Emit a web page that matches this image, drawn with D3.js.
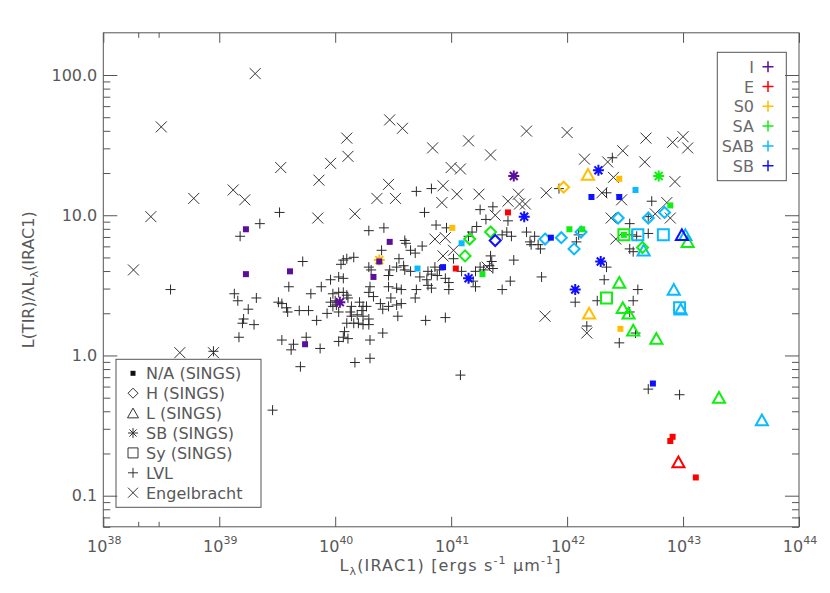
<!DOCTYPE html>
<html>
<head>
<meta charset="utf-8">
<script src="https://cdn.jsdelivr.net/npm/d3@7"></script>
<style>
body { margin: 0; background: #fff; }
text { font-family: "DejaVu Sans", sans-serif; }
</style>
</head>
<body>
<div id="data-viz"></div>
<script>

// log10 L_lambda(IRAC1) , log10 L(TIR)/lambda L_lambda(IRAC1)
var engelbracht = [
	[39.31,2.01],[38.50,1.63],[38.26,0.61],[38.41,0.99],[38.78,1.12],[39.12,1.18],[39.22,1.11],[39.53,1.34],
	[39.86,1.25],[39.85,0.98],[39.96,1.37],[40.10,1.55],[40.11,1.42],[40.17,1.01],[40.36,1.12],[40.46,1.22],
	[40.47,1.68],[40.58,1.62],[40.52,1.12],[40.84,1.48],[41.15,1.53],[41.34,1.43],[41.65,1.60],[42.00,1.59],
	[41.00,1.34],[41.08,1.33],[40.93,1.21],[40.92,1.09],[41.05,1.15],[41.24,1.15],[41.49,1.10],[41.58,1.15],
	[41.59,1.08],[41.64,1.08],[41.82,1.16],[41.38,1.00],[40.86,0.83],[40.95,0.84],[40.93,0.71],[41.02,0.75],
	[41.31,0.63],[41.81,0.28],[42.15,1.40],[42.35,1.38],[42.48,1.46],[42.40,1.27],[42.30,1.16],[42.47,1.11],
	[42.68,1.55],[42.67,1.38],[42.91,1.52],[43.00,1.56],[43.04,1.48],[42.93,1.24],[42.86,1.09],[42.76,1.01],
	[42.89,0.98],[42.38,0.98],[42.42,0.83],[42.17,0.16],[38.66,0.02],[38.95,0.02]
]

var lvl = [
	[38.58,0.47],[39.13,0.44],[39.16,0.39],[39.18,0.85],[39.35,0.94],[39.52,1.02],[39.32,0.41],[39.72,0.67],
	[39.60,0.49],[39.79,0.44],[39.88,0.49],[39.96,0.54],[40.03,0.56],[39.98,0.44],[40.00,0.39],[39.25,0.33],
	[39.21,0.26],[39.20,0.23],[39.30,0.22],[39.17,0.13],[39.51,0.38],[39.54,0.37],[39.58,0.34],[39.59,0.31],
	[39.69,0.32],[39.77,0.32],[39.84,0.25],[39.93,0.30],[39.54,0.11],[39.64,0.08],[39.62,0.04],[39.75,0.13],
	[39.87,0.05],[40.03,0.10],[39.70,-0.08],[40.05,0.65],[40.07,0.55],[40.03,0.45],[40.07,0.45],[40.10,0.43],
	[40.11,0.41],[40.10,0.23],[40.07,0.13],[40.17,-0.05],[40.30,-0.02],[39.46,-0.39],[38.95,0.03],
	[40.70,1.17],[40.83,1.19],[40.77,1.02],[40.29,0.89],[40.42,0.91],[40.87,0.93],[40.96,0.91],[40.60,0.82],
	[40.61,0.80],[40.65,0.75],[40.69,0.73],[40.75,0.78],[40.40,0.75],[40.07,0.68],[40.10,0.69],[40.16,0.70],
	[40.55,0.69],[40.59,0.64],[40.29,0.63],[40.31,0.61],[40.47,0.61],[40.46,0.57],[40.53,0.63],[40.60,0.61],
	[40.65,0.60],[40.73,0.56],[40.80,0.60],[40.83,0.58],[40.86,0.63],[40.88,0.57],[40.90,0.61],[41.02,0.69],
	[40.30,0.49],[40.29,0.45],[40.33,0.42],[40.46,0.49],[40.53,0.48],[40.57,0.47],[40.70,0.47],[40.69,0.41],
	[40.79,0.54],[40.80,0.50],[40.83,0.48],[40.95,0.55],[40.98,0.52],[40.98,0.47],[40.48,0.41],[40.57,0.37],
	[40.39,0.37],[40.41,0.33],[40.46,0.35],[40.53,0.36],[40.21,0.38],[40.24,0.35],[40.23,0.32],[40.14,0.35],
	[40.13,0.31],[40.14,0.28],[40.19,0.29],[40.27,0.35],[40.01,0.36],[40.03,0.31],[40.16,0.23],[40.20,0.23],
	[40.24,0.22],[40.29,0.22],[40.29,0.26],[40.24,0.28],[40.54,0.28],[40.78,0.25],[40.95,0.27],[40.41,0.16],
	[40.08,0.17],[40.11,0.12],[40.30,0.11],[39.96,0.38],[39.98,0.35],
	[41.25,1.04],[41.36,1.06],[41.30,0.97],[41.49,0.96],[41.22,0.92],[41.18,0.88],[41.15,0.85],[41.44,0.86],
	[41.52,0.85],[41.48,0.88],[41.65,0.88],[41.68,0.81],[41.69,0.79],[41.72,0.85],[41.75,0.79],[41.77,0.76],
	[41.34,0.71],[41.35,0.67],[41.25,0.63],[41.33,0.64],[41.36,0.62],[41.28,0.61],[41.09,0.60],[41.21,0.60],
	[41.19,0.53],[41.21,0.49],[41.54,0.68],[41.51,0.53],[41.44,0.47],[41.78,0.56],[41.93,1.19],
	[42.10,0.86],[42.08,0.81],[42.32,0.54],[42.26,0.39],[42.07,0.38],[42.17,0.21],[42.39,1.41],[42.34,1.16],
	[42.73,1.10],[42.70,0.99],[42.54,0.94],[42.56,0.86],[42.60,0.85],[42.70,0.87],[42.54,0.76],[42.57,0.74],
	[42.34,0.63],[42.57,0.39],[42.61,0.47],[42.54,0.31],[42.59,0.16],[42.45,0.09],[42.70,-0.24],[42.97,-0.28],
	[41.08,-0.14]
]

// logL, logRatio, nucleus (N = N/A), morphology
var sings = [
	[39.23,0.90,"N","I"],[39.23,0.58,"N","I"],[39.61,0.60,"N","I"],[39.74,0.08,"N","I"],[40.47,0.81,"N","I"],
	[40.38,0.67,"N","I"],[40.33,0.56,"N","I"],[40.04,0.38,"SB","I"],[41.54,1.28,"SB","I"],
	[41.49,1.02,"N","E"],[41.04,0.62,"N","E"],[42.91,-0.58,"N","E"],[42.89,-0.61,"N","E"],[43.11,-0.87,"N","E"],
	[42.96,-0.76,"L","E"],
	[40.38,0.68,"SB","S0"],[41.01,0.91,"N","S0"],[42.45,1.26,"N","S0"],[42.46,0.19,"N","S0"],[41.97,1.20,"H","S0"],
	[42.18,1.29,"L","S0"],[42.19,0.30,"L","S0"],
	[42.79,1.28,"SB","SA"],[41.27,0.58,"N","SA"],[42.02,0.90,"N","SA"],[42.89,1.07,"N","SA"],[42.13,0.90,"N","SA"],
	[42.49,0.86,"N","SA"],[41.16,0.83,"H","SA"],[41.34,0.88,"H","SA"],[41.12,0.71,"H","SA"],[42.65,0.77,"H","SA"],
	[42.49,0.86,"Sy","SA"],[42.34,0.41,"Sy","SA"],[43.04,0.81,"L","SA"],[42.45,0.52,"L","SA"],[42.48,0.34,"L","SA"],
	[42.53,0.30,"L","SA"],[42.57,0.18,"L","SA"],[42.77,0.12,"L","SA"],[43.31,-0.30,"L","SA"],
	[40.71,0.62,"N","SAB"],[41.09,0.80,"N","SAB"],[42.59,1.18,"N","SAB"],[41.81,0.83,"H","SAB"],[41.95,0.84,"H","SAB"],
	[42.06,0.76,"H","SAB"],[42.12,0.88,"H","SAB"],[42.44,0.98,"H","SAB"],[42.70,0.98,"H","SAB"],[42.84,1.02,"H","SAB"],
	[42.61,0.86,"Sy","SAB"],[42.83,0.86,"Sy","SAB"],[42.97,0.34,"Sy","SAB"],[42.66,0.75,"L","SAB"],[43.02,0.86,"L","SAB"],
	[42.92,0.47,"L","SAB"],[42.98,0.33,"L","SAB"],[43.68,-0.46,"L","SAB"],
	[40.93,0.63,"N","SB"],[41.86,0.84,"N","SB"],[42.21,1.13,"N","SB"],[42.45,1.13,"N","SB"],[42.74,-0.20,"N","SB"],
	[41.38,0.82,"H","SB"],[42.27,1.32,"SB","SB"],[41.63,0.99,"SB","SB"],[41.15,0.55,"SB","SB"],[42.29,0.67,"SB","SB"],
	[42.07,0.47,"SB","SB"],[42.99,0.86,"L","SB"]
]

var morphTypes = ["I", "E", "S0", "SA", "SAB", "SB"]

var nucleusTypes = ["N", "H", "L", "SB", "Sy", "LVL", "Engelbracht"]

var legendLabels = ["N/A (SINGS)", "H (SINGS)", "L (SINGS)", "SB (SINGS)", "Sy (SINGS)", "LVL", "Engelbracht"]

var xMajor = [1e38, 1e39, 1e40, 1e41, 1e42, 1e43, 1e44]
var xMinor = [2e38, 3e38]
var yMajor = [0.1, 1, 10, 100]

var app = {

	settings: {},

	init: () => {

		app.settings.width = 830
		app.settings.height = 593
		app.settings.colours = { I: "#5c0f9c", E: "#ff0000", S0: "#ffbf00", SA: "#11ee11", SAB: "#0abaff", SB: "#1010ff" }
		app.settings.ink = "#585858"

		app.create()

	},

	shape: (type, s) => {

		var a = s * 0.72
		switch (type) {
			case "N": return `M${-s},${-s}H${s}V${s}H${-s}Z`
			case "H": return `M0,${-s}L${s},0L0,${s}L${-s},0Z`
			case "L": return `M0,${-s}L${s * 1.1},${s * 0.95}L${-s * 1.1},${s * 0.95}Z`
			case "SB": return `M${-s},0H${s}M0,${-s}V${s}M${-a},${-a}L${a},${a}M${-a},${a}L${a},${-a}`
			case "Sy": return `M${-s},${-s}H${s}V${s}H${-s}Z`
			case "LVL": return `M${-s},0H${s}M0,${-s}V${s}`
			default: return `M${-s},${-s}L${s},${s}M${-s},${s}L${s},${-s}`
		}

	},

	create: () => {

		app.svg = d3.select("#data-viz").append("svg")
			.attr("width", app.settings.width)
			.attr("height", app.settings.height)

		app.x = d3.scaleLog().domain([1e38, 1e44]).range([103.3, 799])
		app.y = d3.scaleLog().domain([0.06, 200]).range([526.8, 32.8])

		app.drawAxes()
		app.drawPoints()
		app.drawLegends()

	},

	drawAxes: () => {

		var x = app.x, y = app.y
		var [x0, x1] = x.range(), [y0, y1] = y.range()

		var yMinor = []
		;[0.01, 0.1, 1, 10, 100].forEach(d => {
			for (var m = 2; m < 10; m++) {
				var v = d * m
				if (v >= 0.06 && v < 200) yMinor.push(v)
			}
		})

		var axes = [
			[d3.axisBottom(x).tickValues(xMajor).tickSize(-10), `translate(0,${y0})`],
			[d3.axisBottom(x).tickValues(xMinor).tickSize(-5), `translate(0,${y0})`],
			[d3.axisTop(x).tickValues(xMajor).tickSize(-10), `translate(0,${y1})`],
			[d3.axisTop(x).tickValues(xMinor).tickSize(-5), `translate(0,${y1})`],
			[d3.axisLeft(y).tickValues(yMinor).tickSize(-7), `translate(${x0},0)`],
			[d3.axisRight(y).tickValues(yMajor).tickSize(-14), `translate(${x1},0)`],
			[d3.axisRight(y).tickValues(yMinor).tickSize(-7), `translate(${x1},0)`]
		]

		axes.forEach(a => {
			app.svg.append("g")
				.attr("transform", a[1])
				.attr("color", "#555")
				.call(a[0].tickSizeOuter(0).tickFormat(""))
				.call(g => g.select(".domain").remove())
		})

		// left major ticks carry the labels
		app.svg.append("g")
			.attr("transform", `translate(${x0},0)`)
			.attr("color", app.settings.ink)
			.call(d3.axisLeft(y).tickValues(yMajor).tickSize(-14).tickSizeOuter(0).tickPadding(6).tickFormat(d3.format(".1f")))
			.call(g => g.select(".domain").remove())
			.call(g => g.selectAll("line").attr("stroke", "#555"))
			.call(g => g.selectAll("text").attr("font-family", "DejaVu Sans").attr("font-size", 16))

		app.svg.append("rect")
			.attr("x", x0).attr("y", y1)
			.attr("width", x1 - x0).attr("height", y0 - y1)
			.attr("fill", "none").attr("stroke", "#555").attr("stroke-width", 1)

		var xl = app.svg.append("g").selectAll("text").data(xMajor).join("text")
			.attr("x", d => x(d) + 1)
			.attr("y", 552)
			.attr("text-anchor", "middle")
			.attr("font-size", 16)
			.attr("fill", app.settings.ink)

		xl.append("tspan").text("10")
		xl.append("tspan").attr("dy", -8).attr("font-size", 11).text(d => Math.round(Math.log10(d)))

		// x title
		var xt = app.svg.append("text")
			.attr("x", 450).attr("y", 571)
			.attr("text-anchor", "middle")
			.attr("font-size", 16)
			.attr("fill", app.settings.ink)
			.attr("textLength", 221)

		xt.append("tspan").text("L")
		xt.append("tspan").attr("dy", 4).attr("font-size", 11).text("λ")
		xt.append("tspan").attr("dy", -4).text("(IRAC1)  [ergs s")
		xt.append("tspan").attr("dy", -7).attr("font-size", 11).text("-1")
		xt.append("tspan").attr("dy", 7).text(" μm")
		xt.append("tspan").attr("dy", -7).attr("font-size", 11).text("-1")
		xt.append("tspan").attr("dy", 7).text("]")

		// y title
		var yt = app.svg.append("text")
			.attr("transform", `translate(34,${(y0 + y1) / 2}) rotate(-90)`)
			.attr("text-anchor", "middle")
			.attr("font-size", 16)
			.attr("fill", app.settings.ink)

		yt.append("tspan").text("L(TIR)/λL")
		yt.append("tspan").attr("dy", 4).attr("font-size", 11).text("λ")
		yt.append("tspan").attr("dy", -4).text("(IRAC1)")

	},

	drawPoints: () => {

		var x = app.x, y = app.y
		var pos = d => `translate(${x(10 ** d[0])},${y(10 ** d[1])})`

		app.svg.append("g").selectAll("path").data(engelbracht).join("path")
			.attr("d", app.shape("Engelbracht", 5.5))
			.attr("transform", pos)
			.attr("fill", "none").attr("stroke", "#333").attr("stroke-width", 1)

		app.svg.append("g").selectAll("path").data(lvl).join("path")
			.attr("d", app.shape("LVL", 5))
			.attr("transform", pos)
			.attr("fill", "none").attr("stroke", "#2a2a2a").attr("stroke-width", 1)

		var order = { L: 0, H: 1, Sy: 2, SB: 3, N: 4 }
		var sorted = sings.slice().sort((a, b) => order[a[2]] - order[b[2]])

		app.svg.append("g").selectAll("path").data(sorted).join("path")
			.attr("d", d => app.shape(d[2], d[2] == "N" ? 3 : 5.5))
			.attr("transform", pos)
			.attr("fill", d => d[2] == "N" ? app.settings.colours[d[3]] : "none")
			.attr("stroke", d => app.settings.colours[d[3]])
			.attr("stroke-width", d => d[2] == "N" ? 0 : 2)

	},

	drawLegends: () => {

		// morphology key, top right
		app.svg.append("rect")
			.attr("x", 717.3).attr("y", 52.3).attr("width", 69).attr("height", 128.4)
			.attr("fill", "none").attr("stroke", "#555")

		var mk = app.svg.append("g").selectAll("g").data(morphTypes).join("g")
			.attr("transform", (d, i) => `translate(0,${66.7 + i * 19.8})`)

		mk.append("text")
			.attr("x", 754).attr("y", 6)
			.attr("text-anchor", "end")
			.attr("font-size", 16)
			.attr("fill", "#6a6a6a")
			.text(d => d)

		mk.append("path")
			.attr("transform", "translate(768,0)")
			.attr("d", app.shape("LVL", 5.5))
			.attr("stroke", d => app.settings.colours[d])
			.attr("stroke-width", 1.5)

		// survey / nucleus key, bottom left
		app.svg.append("rect")
			.attr("x", 116).attr("y", 359.3).attr("width", 145).attr("height", 148)
			.attr("fill", "none").attr("stroke", "#555")

		var nk = app.svg.append("g").selectAll("g").data(nucleusTypes).join("g")
			.attr("transform", (d, i) => `translate(0,${373.3 + i * 19.9})`)

		nk.append("path")
			.attr("transform", "translate(133,0)")
			.attr("d", d => app.shape(d, d == "N" ? 2.5 : 5))
			.attr("fill", d => d == "N" ? "#111" : "none")
			.attr("stroke", d => d == "N" ? "none" : "#333")
			.attr("stroke-width", 1)

		nk.append("text")
			.attr("x", 146).attr("y", 6)
			.attr("font-size", 16)
			.attr("fill", app.settings.ink)
			.text((d, i) => legendLabels[i])

	}

}

app.init()

</script>
</body>
</html>
